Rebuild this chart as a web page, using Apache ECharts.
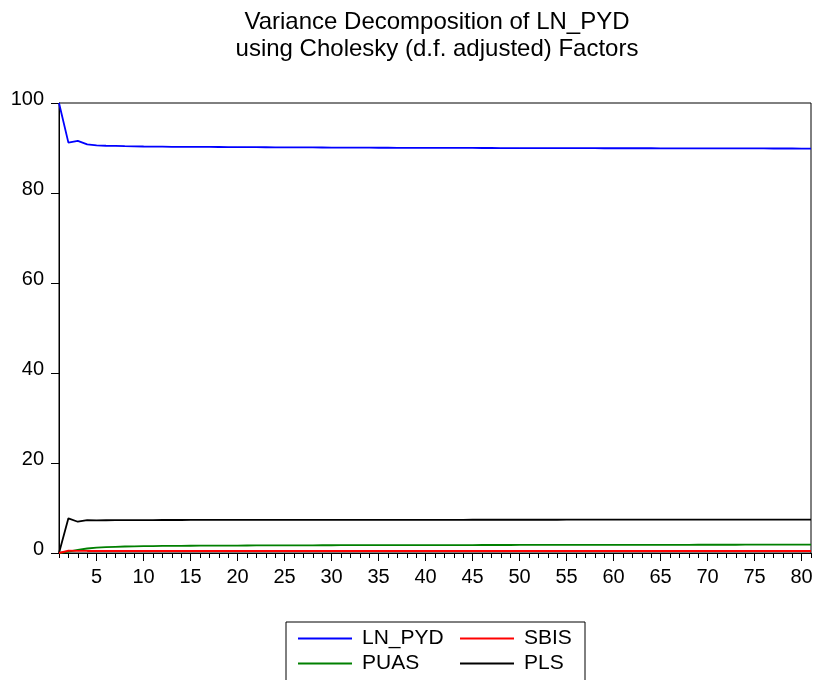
<!DOCTYPE html>
<html>
<head>
<meta charset="utf-8">
<script src="https://cdn.jsdelivr.net/npm/echarts@6/dist/echarts.min.js"></script>
<style>
  html, body { margin: 0; padding: 0; background: #fff; }
  #chart { width: 813px; height: 680px; }
</style>
</head>
<body>
<div id="chart"></div>
<script>
// 期数 1..81
const periods = [];
for (let i = 1; i <= 81; i++) {
  periods.push(String(i));
}

const lnPyd = [100, 91.2, 91.6, 90.8, 90.6, 90.5, 90.45, 90.4, 90.36, 90.33,
  90.31, 90.29, 90.27, 90.26, 90.25, 90.24, 90.23, 90.22, 90.21, 90.2,
  90.19, 90.18, 90.17, 90.16, 90.15, 90.14, 90.13, 90.12, 90.11, 90.1,
  90.09, 90.08, 90.08, 90.07, 90.06, 90.06, 90.05, 90.04, 90.04, 90.03,
  90.03, 90.02, 90.02, 90.01, 90.01, 90.0, 90.0, 89.99, 89.99, 89.98,
  89.98, 89.98, 89.97, 89.97, 89.97, 89.96, 89.96, 89.96, 89.95, 89.95,
  89.95, 89.94, 89.94, 89.94, 89.93, 89.93, 89.93, 89.92, 89.92, 89.92,
  89.91, 89.91, 89.91, 89.9, 89.9, 89.9, 89.89, 89.89, 89.89, 89.88, 89.88];

const sbis = [0, 0.5, 0.46, 0.45, 0.45, 0.45, 0.45, 0.45, 0.45, 0.45,
  0.45, 0.45, 0.45, 0.45, 0.45, 0.45, 0.45, 0.45, 0.45, 0.45,
  0.45, 0.45, 0.45, 0.45, 0.45, 0.45, 0.45, 0.45, 0.45, 0.45,
  0.45, 0.45, 0.45, 0.45, 0.45, 0.45, 0.45, 0.45, 0.45, 0.45,
  0.45, 0.45, 0.45, 0.45, 0.45, 0.45, 0.45, 0.45, 0.45, 0.45,
  0.45, 0.45, 0.45, 0.45, 0.45, 0.45, 0.45, 0.45, 0.45, 0.45,
  0.45, 0.45, 0.45, 0.45, 0.45, 0.45, 0.45, 0.45, 0.45, 0.45,
  0.45, 0.45, 0.45, 0.45, 0.45, 0.45, 0.45, 0.45, 0.45, 0.45, 0.45];

const puas = [0, 0.3, 0.7, 1.0, 1.2, 1.3, 1.38, 1.44, 1.48, 1.52,
  1.55, 1.57, 1.59, 1.6, 1.61, 1.62, 1.63, 1.64, 1.65, 1.66,
  1.67, 1.68, 1.68, 1.69, 1.7, 1.7, 1.71, 1.71, 1.72, 1.72,
  1.73, 1.73, 1.74, 1.74, 1.74, 1.75, 1.75, 1.75, 1.76, 1.76,
  1.76, 1.77, 1.77, 1.77, 1.77, 1.78, 1.78, 1.78, 1.78, 1.79,
  1.79, 1.79, 1.79, 1.8, 1.8, 1.8, 1.8, 1.8, 1.81, 1.81,
  1.81, 1.81, 1.81, 1.82, 1.82, 1.82, 1.82, 1.82, 1.83, 1.83,
  1.83, 1.83, 1.83, 1.84, 1.84, 1.84, 1.84, 1.84, 1.85, 1.85, 1.85];

const pls = [0, 7.7, 6.95, 7.3, 7.25, 7.28, 7.3, 7.31, 7.31, 7.32,
  7.32, 7.33, 7.33, 7.33, 7.34, 7.34, 7.34, 7.34, 7.35, 7.35,
  7.35, 7.35, 7.35, 7.36, 7.36, 7.36, 7.36, 7.36, 7.36, 7.37,
  7.37, 7.37, 7.37, 7.37, 7.37, 7.37, 7.38, 7.38, 7.38, 7.38,
  7.38, 7.38, 7.38, 7.38, 7.39, 7.39, 7.39, 7.39, 7.39, 7.39,
  7.39, 7.39, 7.39, 7.39, 7.4, 7.4, 7.4, 7.4, 7.4, 7.4,
  7.4, 7.4, 7.4, 7.4, 7.4, 7.4, 7.41, 7.41, 7.41, 7.41,
  7.41, 7.41, 7.41, 7.41, 7.41, 7.41, 7.41, 7.42, 7.42, 7.42, 7.42];

// 画线顺序: 红线放最后
const seriesNames = ["LN_PYD", "PUAS", "PLS", "SBIS"];
const seriesColors = ["#0000ff", "#008000", "#000000", "#ff0000"];
const seriesData = [lnPyd, puas, pls, sbis];

// 图例位置 (两行两列)
const legendNames = ["LN_PYD", "SBIS", "PUAS", "PLS"];
const legendPos = [[298, 628], [460, 628], [298, 653], [460, 653]];

const yTicks = { min: 0, max: 100, step: 20 };

const isMajor = function (index) {
  return (index + 1) % 5 === 0;
};

let myChart = echarts.init(document.getElementById("chart"));

let series = [];
for (let i = 0; i < seriesNames.length; i++) {
  series.push({
    name: seriesNames[i],
    type: "line",
    xAxisIndex: 0,
    yAxisIndex: 0,
    symbol: "none",
    data: seriesData[i],
    lineStyle: { color: seriesColors[i], width: 1.8 },
    itemStyle: { color: seriesColors[i] }
  });
}

let legends = [];
for (let i = 0; i < legendNames.length; i++) {
  legends.push({
    data: [legendNames[i]],
    left: legendPos[i][0],
    top: legendPos[i][1],
    padding: 0,
    icon: "rect",
    itemWidth: 54,
    itemHeight: 2,
    textStyle: {
      fontSize: 21,
      lineHeight: 20,
      color: "#000",
      padding: [0, 0, 0, 5]
    }
  });
}

option = {
  animation: false,
  backgroundColor: "#fff",
  textStyle: { fontFamily: "Liberation Sans, Arial, sans-serif" },
  title: {
    text: "Variance Decomposition of LN_PYD\nusing Cholesky (d.f. adjusted) Factors",
    left: 432,
    top: 4,
    textAlign: "center",
    textStyle: {
      fontSize: 24,
      fontWeight: "normal",
      lineHeight: 27,
      color: "#000"
    }
  },
  grid: [
    { left: 59, top: 103, right: 2, bottom: 127, show: true, borderColor: "#000", borderWidth: 1, outerBoundsMode: "none" },
    { left: 59, top: 103, right: 2, bottom: 127, outerBoundsMode: "none" }
  ],
  legend: legends,
  graphic: [{
    type: "rect",
    shape: { x: 286, y: 622, width: 299, height: 80 },
    style: { fill: "none", stroke: "#000", lineWidth: 1 },
    silent: true
  }],
  xAxis: [
    {
      type: "category",
      gridIndex: 0,
      data: periods,
      boundaryGap: false,
      axisLine: { lineStyle: { color: "#000", width: 1 } },
      axisTick: { length: 8, interval: isMajor, lineStyle: { color: "#000" } },
      axisLabel: { interval: isMajor, fontSize: 20, color: "#000", margin: 14 },
      splitLine: { show: false }
    },
    {
      //小刻度
      type: "category",
      gridIndex: 1,
      data: periods,
      boundaryGap: false,
      axisLine: { show: false },
      axisTick: { length: 5, interval: 0, lineStyle: { color: "#000" } },
      axisLabel: { show: false },
      splitLine: { show: false }
    }
  ],
  yAxis: [
    {
      type: "value",
      gridIndex: 0,
      min: yTicks.min,
      max: yTicks.max,
      interval: yTicks.step,
      axisLine: { show: true, lineStyle: { color: "#000", width: 1 } },
      axisTick: { show: true, length: 8, lineStyle: { color: "#000" } },
      axisLabel: { fontSize: 20, color: "#000", margin: 15, verticalAlign: "bottom", lineHeight: 8 },
      splitLine: { show: false }
    },
    {
      type: "value",
      gridIndex: 1,
      min: 0,
      max: 100,
      show: false
    }
  ],
  series: series
};
myChart.setOption(option);
</script>
</body>
</html>
